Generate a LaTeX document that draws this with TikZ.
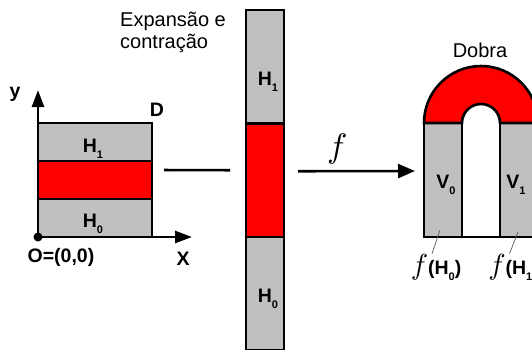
\documentclass[tikz,border=0pt]{standalone}
\usepackage{graphicx}
\usepackage{fontspec}
\setmainfont{Liberation Sans}
\usepackage{tikz}
\usetikzlibrary{arrows.meta,positioning}
\definecolor{plate}{HTML}{C0C0C0}
\definecolor{flame}{HTML}{FF0000}
\definecolor{lead}{HTML}{5A5A5A}
\newcommand{\lowsub}[1]{\raisebox{-6pt}{\fontsize{11}{11}\selectfont #1}}
\newcommand{\lbfont}{\fontsize{19.5}{22}\selectfont\bfseries}
\newcommand{\bigf}[1]{\scalebox{#1}{$f$}}

\begin{document}
\begin{tikzpicture}[
  x=1pt, y=-1pt,
  cell/.style={draw, line width=2.6pt, fill=plate, inner sep=0pt, outer sep=0pt, minimum width=114pt, minimum height=38pt},
  thincell/.style={cell, minimum width=38pt, minimum height=113.5pt},
  hotcell/.style={fill=flame},
  tag/.style={inner sep=0pt, anchor=base, font=\lbfont},
  note/.style={inner sep=0pt, font=\fontsize{20}{22}\selectfont, align=left},
  link/.style={line width=2.6pt},
  arrow/.style={line width=2.6pt, -{Triangle[length=17pt,width=14pt]}},
  axis/.style={line width=2.6pt, -{Triangle[length=17pt,width=12pt]}},
  leader/.style={draw=lead, line width=0.7pt}
]
\useasboundingbox (0,0) rectangle (532,349);
\clip (0,0) rectangle (532,349);
\node[cell] (lhone) at (95,142) {};
\node[cell, hotcell, below=0pt of lhone] (lred) {};
\node[cell, below=0pt of lred] (lhzero) {};
\node[thincell] (bhone) at (265,66.75) {};
\node[thincell, hotcell, below=0pt of bhone] (bred) {};
\node[thincell, below=0pt of bred] (bhzero) {};
\node[cell, minimum width=38pt, minimum height=114pt] (vzero) at (443,180) {};
\node[cell, minimum width=38pt, minimum height=114pt, right=38pt of vzero] (vone) {};
\draw[link, fill=flame] (vzero.north west) arc[start angle=180, end angle=360, radius=57]
  -- (vone.north west) arc[start angle=0, end angle=-180, radius=19] -- cycle;
\draw[link] (vzero.south east) -- (vone.south west);
\coordinate (O) at (lhzero.south west);
\coordinate (ytip) at (38,90);
\coordinate (xtip) at (192,237);
\draw[axis] (O) -- (ytip);
\draw[axis] (O) -- (xtip);
\fill (O) circle[radius=4.5];
\node[tag] (ylab) at (15,97) {y};
\node[tag] (dlab) at (157,116) {D};
\node[tag] (xlab) at (183,265) {X};
\node[tag] (olab) at (61,262) {O=(0,0)};
\node[tag] (lhonelab) at (93,152) {H\lowsub{1}};
\node[tag] (lhzerolab) at (93,227) {H\lowsub{0}};
\node[tag] (bhonelab) at (268,85) {H\lowsub{1}};
\node[tag] (bhzerolab) at (268,302) {H\lowsub{0}};
\node[tag] (vzerolab) at (446,188) {V\lowsub{0}};
\node[tag] (vonelab) at (516,188) {V\lowsub{1}};
\node[note, anchor=north west] (expnote) at (120,12) {Expansão e\\contração};
\node[note, anchor=base] (dobra) at (480,57) {Dobra};
\node[inner sep=0pt, anchor=base] (fhzero) at (436,274) {\bigf{2.9}\lbfont(H\lowsub{0})};
\node[inner sep=0pt, anchor=base] (fhone) at (513.5,274) {\bigf{2.9}\lbfont(H\lowsub{1})};
\coordinate (pzero) at (440,230);
\coordinate (pone) at (518,232);
\draw[leader] ([xshift=-4pt]fhzero.north) -- (pzero);
\draw[leader] ([xshift=-4pt]fhone.north) -- (pone);
\draw[link, shorten <=12pt, shorten >=16pt] ([yshift=10pt]lred.east) -- ([yshift=10pt]bred.west);
\draw[arrow, shorten <=14pt, shorten >=9pt] ([yshift=9pt]bred.east) -- node[pos=0.38, above=6pt, inner sep=0pt] (flab) {\bigf{3.4}} ([yshift=9pt]vzero.west);
\end{tikzpicture}
\end{document}
